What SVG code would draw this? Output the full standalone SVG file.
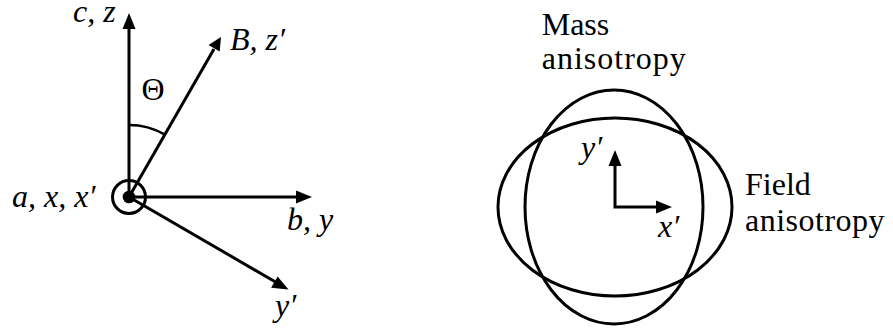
<svg xmlns="http://www.w3.org/2000/svg" width="893" height="331" viewBox="0 0 893 331">
<g id="connectors" fill="none" stroke="#000" stroke-width="3">
<line x1="129" y1="197" x2="129" y2="27"/>
<line x1="129" y1="197" x2="214" y2="49.1"/>
<line x1="129" y1="197" x2="298" y2="197"/>
<line x1="129" y1="197" x2="276.4" y2="282.5"/>
<path d="M129,125 A72,72 0 0 1 164.9,134.6" stroke-width="2.6"/>
<path d="M615,164 L615,207 L658,207"/>
<g fill="#000" stroke="none">
<polygon points="129,13 122.5,29 135.5,29"/>
<polygon points="221,37 208.5,44.9 219.7,51.4"/>
<polygon points="312,197 296,190.5 296,203.5"/>
<polygon points="288.5,289.5 271.1,287.8 277.6,276.6"/>
<polygon points="615,150 608.5,166 621.5,166"/>
<polygon points="672,207 656,200.5 656,213.5"/>
</g>
</g>
<g id="origin">
<circle cx="129" cy="197" r="16.5" fill="none" stroke="#000" stroke-width="3"/>
<circle cx="129" cy="197" r="6.3" fill="#000"/>
</g>
<g id="labels-left">
<text x="73" y="22" font-family="Liberation Serif" font-size="32" font-style="italic">c, z</text>
<text x="230" y="50" font-family="Liberation Serif" font-size="32" font-style="italic">B, z′</text>
<text x="141.5" y="99.5" font-family="Liberation Serif" font-size="32">Θ</text>
<text x="12" y="206.5" font-family="Liberation Serif" font-size="32" font-style="italic">a, x, x′</text>
<text x="287" y="230" font-family="Liberation Serif" font-size="32" font-style="italic">b, y</text>
<text x="275" y="316" font-family="Liberation Serif" font-size="32" font-style="italic">y′</text>
</g>
<g id="mass-anisotropy">
<ellipse cx="614" cy="207" rx="89" ry="117" fill="none" stroke="#000" stroke-width="3"/>
<text x="541.7" y="35" font-family="Liberation Serif" font-size="32">Mass</text>
<text x="541.7" y="69" font-family="Liberation Serif" font-size="32" letter-spacing="1">anisotropy</text>
</g>
<g id="field-anisotropy">
<ellipse cx="615" cy="207" rx="117" ry="89" fill="none" stroke="#000" stroke-width="3"/>
<text x="745" y="195" font-family="Liberation Serif" font-size="32">Field</text>
<text x="745" y="231" font-family="Liberation Serif" font-size="32" letter-spacing="0.5">anisotropy</text>
</g>
<g id="axes-right">
<text x="581" y="158" font-family="Liberation Serif" font-size="32" font-style="italic">y′</text>
<text x="658" y="236.5" font-family="Liberation Serif" font-size="32" font-style="italic">x′</text>
</g>
</svg>
